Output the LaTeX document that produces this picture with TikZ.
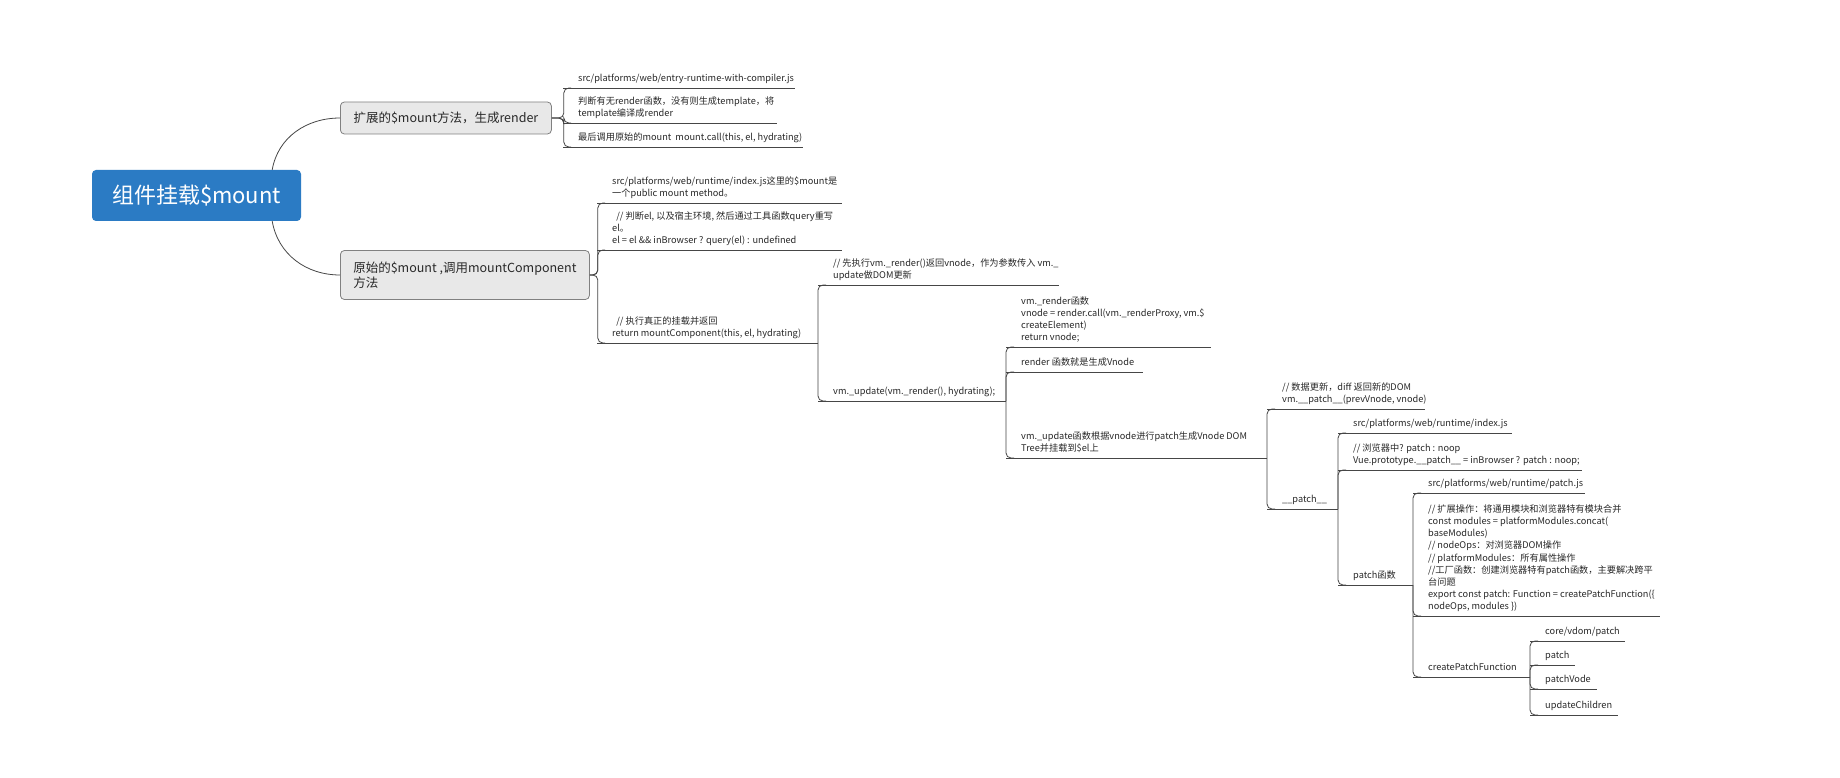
\documentclass[tikz,border=0pt]{standalone}
\usepackage{fontspec}
\setmainfont{Noto Sans CJK SC}
\definecolor{rootblue}{RGB}{43,123,196}
\definecolor{boxgray}{RGB}{232,232,232}
\definecolor{boxline}{RGB}{128,128,128}
\definecolor{linkgray}{RGB}{70,70,70}
\definecolor{textgray}{RGB}{40,40,40}
\begin{document}
\begin{tikzpicture}[x=1pt,y=-1pt,
  topic/.style={anchor=south west,align=left,inner xsep=15pt,inner ysep=4pt,text depth=2pt,text=textgray,font=\fontsize{9.2}{12.2}\selectfont},
  box/.style={draw=boxline,fill=boxgray,rounded corners=4pt,line width=0.8pt,anchor=west,align=left,text=textgray,font=\fontsize{12.5}{15}\selectfont},
  link/.style={draw=linkgray,line width=0.8pt,rounded corners=5pt},
  uline/.style={draw=linkgray,line width=0.95pt}]

\useasboundingbox (0,0) rectangle (1840,778);
\fill[white] (0,0) rectangle (1840,778);

% root and main branches
\node[fill=rootblue,rounded corners=4pt,minimum width=209pt,minimum height=51pt,text=white,font=\fontsize{22}{26}\selectfont] (root) at (196.5,195.5) {组件挂载\$mount};
\node[box,minimum width=211pt,minimum height=32pt] (ext) at (340,118) {扩展的\$mount方法，生成render};
\node[box,minimum width=249pt,minimum height=49pt] (orig) at (340,275) {原始的\$mount ,调用mountComponent\\方法};
\draw[link] ([xshift=-29pt]root.north east) to[out=80,in=180] (ext.west);
\draw[link] ([xshift=-29pt]root.south east) to[out=-80,in=180] (orig.west);

% extended $mount
\node[topic] (entry) at (563,88) {src/platforms/web/entry-runtime-with-compiler.js};
\node[topic] (judge) at (563,123) {判断有无render函数，没有则生成template，将\\template编译成render};
\node[topic] (call) at (563,147) {最后调用原始的mount\ \ mount.call(this, el, hydrating)};
\draw[uline] (entry.south west) -- ++(232,0);
\draw[uline] (judge.south west) -- ++(214,0);
\draw[uline] (call.south west) -- ++(240,0);
\draw[link] (ext.east) -- ++(12,0) |- ([xshift=8pt]entry.south west);
\draw[link] (ext.east) -- ++(12,0) |- ([xshift=8pt]judge.south west);
\draw[link] (ext.east) -- ++(12,0) |- ([xshift=8pt]call.south west);

% original $mount
\node[topic] (index) at (597,203) {src/platforms/web/runtime/index.js这里的\$mount是\\一个public mount method。};
\node[topic] (query) at (597,250) {\ \ // 判断el, 以及宿主环境, 然后通过工具函数query重写\\el。\\el = el \&\& inBrowser ? query(el) : undefined};
\node[topic] (mountc) at (597,343) {\ \ // 执行真正的挂载并返回\\return mountComponent(this, el, hydrating)};
\draw[uline] (index.south west) -- ++(245,0);
\draw[uline] (query.south west) -- ++(245,0);
\draw[uline] (mountc.south west) -- ++(221,0) coordinate (mountc-e);
\draw[link] (orig.east) -- ++(8,0) |- ([xshift=8pt]index.south west);
\draw[link] (orig.east) -- ++(8,0) |- ([xshift=8pt]query.south west);
\draw[link] (orig.east) -- ++(8,0) |- ([xshift=8pt]mountc.south west);

% mountComponent
\node[topic] (first) at (818,285) {// 先执行vm.\_render()返回vnode，作为参数传入 vm.\_\\update做DOM更新};
\node[topic] (update) at (818,401) {vm.\_update(vm.\_render(), hydrating);};
\draw[uline] (first.south west) -- ++(241,0);
\draw[uline] (update.south west) -- ++(188,0) coordinate (update-e);
\draw[link] (mountc-e) |- ([xshift=8pt]first.south west);
\draw[link] (mountc-e) |- ([xshift=8pt]update.south west);

% vm._update
\node[topic] (render) at (1006,347) {vm.\_render函数\\vnode = render.call(vm.\_renderProxy, vm.\$\\createElement)\\return vnode;};
\node[topic] (vnode) at (1006,372) {render 函数就是生成Vnode};
\node[topic] (dom) at (1006,458) {vm.\_update函数根据vnode进行patch生成Vnode DOM\\Tree并挂载到\$el上};
\draw[uline] (render.south west) -- ++(205,0);
\draw[uline] (vnode.south west) -- ++(137,0);
\draw[uline] (dom.south west) -- ++(261,0) coordinate (dom-e);
\draw[link] (update-e) |- ([xshift=8pt]render.south west);
\draw[link] (update-e) |- ([xshift=8pt]vnode.south west);
\draw[link] (update-e) |- ([xshift=8pt]dom.south west);

% patch
\node[topic] (diff) at (1267,409) {// 数据更新，diff 返回新的DOM\\vm.\_\_patch\_\_(prevVnode, vnode)};
\node[topic] (patch) at (1267,509) {\_\_patch\_\_};
\draw[uline] (diff.south west) -- ++(158,0);
\draw[uline] (patch.south west) -- ++(71,0) coordinate (patch-e);
\draw[link] (dom-e) |- ([xshift=8pt]diff.south west);
\draw[link] (dom-e) |- ([xshift=8pt]patch.south west);

\node[topic] (rtindex) at (1338,433) {src/platforms/web/runtime/index.js};
\node[topic] (noop) at (1338,470) {// 浏览器中? patch : noop\\Vue.prototype.\_\_patch\_\_ = inBrowser ? patch : noop;};
\node[topic] (patchfn) at (1338,585) {patch函数};
\draw[uline] (rtindex.south west) -- ++(174,0);
\draw[uline] (noop.south west) -- ++(244,0);
\draw[uline] (patchfn.south west) -- ++(75,0) coordinate (patchfn-e);
\draw[link] (patch-e) |- ([xshift=8pt]rtindex.south west);
\draw[link] (patch-e) |- ([xshift=8pt]noop.south west);
\draw[link] (patch-e) |- ([xshift=8pt]patchfn.south west);

\node[topic] (patchjs) at (1413,493) {src/platforms/web/runtime/patch.js};
\node[topic] (modules) at (1413,616) {// 扩展操作：将通用模块和浏览器特有模块合并\\const modules = platformModules.concat(\\baseModules)\\// nodeOps：对浏览器DOM操作\\// platformModules：所有属性操作\\//工厂函数：创建浏览器特有patch函数，主要解决跨平\\台问题\\export const patch: Function = createPatchFunction(\{\\nodeOps, modules \})};
\node[topic] (create) at (1413,677) {createPatchFunction};
\draw[uline] (patchjs.south west) -- ++(172,0);
\draw[uline] (modules.south west) -- ++(247,0);
\draw[uline] (create.south west) -- ++(117,0) coordinate (create-e);
\draw[link] (patchfn-e) |- ([xshift=8pt]patchjs.south west);
\draw[link] (patchfn-e) |- ([xshift=8pt]modules.south west);
\draw[link] (patchfn-e) |- ([xshift=8pt]create.south west);

% createPatchFunction
\node[topic] (vdom) at (1530,641) {core/vdom/patch};
\node[topic] (ppatch) at (1530,665) {patch};
\node[topic] (pvode) at (1530,689) {patchVode};
\node[topic] (children) at (1530,715) {updateChildren};
\draw[uline] (vdom.south west) -- ++(95,0);
\draw[uline] (ppatch.south west) -- ++(45,0);
\draw[uline] (pvode.south west) -- ++(67,0);
\draw[uline] (children.south west) -- ++(88,0);
\draw[link] (create-e) |- ([xshift=8pt]vdom.south west);
\draw[link] (create-e) |- ([xshift=8pt]ppatch.south west);
\draw[link] (create-e) |- ([xshift=8pt]pvode.south west);
\draw[link] (create-e) |- ([xshift=8pt]children.south west);

\end{tikzpicture}
\end{document}
